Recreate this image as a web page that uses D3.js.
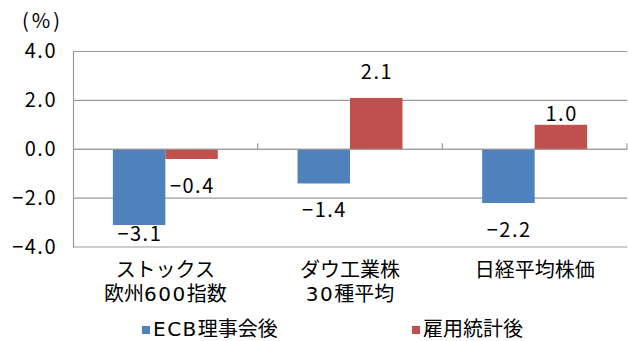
<!DOCTYPE html>
<html><head><meta charset="utf-8">
<script src="https://cdn.jsdelivr.net/npm/d3@7"></script>
<style>
html,body{margin:0;padding:0;background:#fff;}
text{font-family:"Noto Sans CJK JP","Noto Sans",sans-serif;fill:#000;}
</style></head>
<body><svg id="c" width="628" height="341"></svg>
<script>
const categories = [["ストックス","欧州600指数"],["ダウ工業株","30種平均"],["日経平均株価"]];
const seriesNames = ["ECB理事会後","雇用統計後"];
const ecbValues = [-3.1, -1.4, -2.2];
const jobsValues = [-0.4, 2.1, 1.0];
const yTicks = [-4, -2, 0, 2, 4];
const unitLabel = "(%)";

const colors = ["#4F81BD", "#C0504D"];
const svg = d3.select("#c");
const m = {left:73, right:627, top:51.5, bottom:247};
const fs = 20;
const latinFont = '"DejaVu Sans",sans-serif';
const sp = 1.5;

// ASCII/digit runs use a wide Latin face; CJK stays in Noto Sans CJK JP
function runs(textSel, str){
  const parts = str.split(/([\x20-\x7E\u2212]+)/).filter(p=>p.length);
  parts.forEach(p=>{
    const ascii = /^[\x20-\x7E\u2212]+$/.test(p);
    const t = textSel.append("tspan").text(p);
    if (ascii) t.attr("font-family", latinFont).attr("letter-spacing", sp);
  });
}
const fmt = v => (v < 0 ? "\u2212" : "") + Math.abs(v).toFixed(1);

const y = d3.scaleLinear().domain([-4,4]).range([m.bottom, m.top]);
const x0 = d3.scaleBand().domain(d3.range(categories.length)).range([m.left, m.right]).padding(0);
const x1 = d3.scaleBand().domain(seriesNames).range([0, x0.bandwidth()]).paddingInner(0).paddingOuter(0.76);

// gridlines
svg.append("g").selectAll("line").data(yTicks).join("line")
  .attr("x1", m.left).attr("x2", m.right)
  .attr("y1", d=>y(d)).attr("y2", d=>y(d))
  .attr("stroke", "#9a9a9a").attr("stroke-width", 1.2);

// y axis
const yAxis = d3.axisLeft(y).tickValues(yTicks).tickSize(0).tickPadding(16)
  .tickFormat(fmt);
const ga = svg.append("g").attr("transform", `translate(${m.left},0)`).call(yAxis);
ga.select(".domain").attr("stroke", "#9a9a9a").attr("stroke-width", 1.2);
ga.selectAll("text").attr("font-size", fs).attr("letter-spacing", sp)
  .attr("font-family", latinFont).attr("fill", "#000");

const ut = svg.append("text").attr("x", 22).attr("y", 28).attr("font-size", fs)
  .attr("font-family", latinFont).attr("letter-spacing", 3).text(unitLabel);

const data = [];
categories.forEach((c,i)=>{
  data.push({ci:i, s:seriesNames[0], v:ecbValues[i], col:colors[0]});
  data.push({ci:i, s:seriesNames[1], v:jobsValues[i], col:colors[1]});
});

// bars
svg.append("g").selectAll("rect").data(data).join("rect")
  .attr("x", d=>x0(d.ci)+x1(d.s))
  .attr("width", x1.bandwidth())
  .attr("y", d=>y(Math.max(0,d.v)))
  .attr("height", d=>Math.abs(y(d.v)-y(0)))
  .attr("fill", d=>d.col);

// category axis at zero
const gx = svg.append("g");
gx.append("line").attr("x1", m.left).attr("x2", m.right).attr("y1", y(0)).attr("y2", y(0))
  .attr("stroke", "#9a9a9a").attr("stroke-width", 1.2);
gx.selectAll("line.t").data(d3.range(1, categories.length+1)).join("line").attr("class","t")
  .attr("x1", i=> i===categories.length ? m.right : x0(i)).attr("x2", i=> i===categories.length ? m.right : x0(i))
  .attr("y1", y(0)-6).attr("y2", y(0))
  .attr("stroke", "#9a9a9a").attr("stroke-width", 1.2);

// data labels (layout nudges in code)
function labelY(d){
  if (d.v >= 0) {
    return d.v < 1.5 ? y(d.v) - 4 : y(d.v) - 19;
  }
  return Math.min(y(d.v) + 34, m.bottom - 6);
}
svg.append("g").selectAll("text").data(data).join("text")
  .attr("x", d=>x0(d.ci)+x1(d.s)+x1.bandwidth()/2 + sp/2)
  .attr("y", labelY)
  .attr("text-anchor", "middle").attr("font-size", fs).attr("letter-spacing", sp)
  .attr("font-family", latinFont)
  .text(d=>fmt(d.v));

// category labels
const lines = [];
categories.forEach((c,i)=>c.forEach((t,j)=>lines.push({i, j, t})));
svg.append("g").selectAll("text").data(lines).join("text")
  .attr("x", d=>x0(d.i)+x0.bandwidth()/2)
  .attr("y", d=>277 + d.j*24)
  .attr("text-anchor", "middle").attr("font-size", fs)
  .each(function(d){ runs(d3.select(this), d.t); });

// legend
const legX = [142, 412];
const lg = svg.append("g").selectAll("g").data(seriesNames).join("g")
  .attr("transform", (s,i)=>`translate(${legX[i]},326)`);
lg.append("rect").attr("width", 8).attr("height", 8).attr("fill", (s,i)=>colors[i]);
lg.append("text").attr("x", 11).attr("y", 10).attr("font-size", fs)
  .each(function(s){ runs(d3.select(this), s); });
</script></body></html>
